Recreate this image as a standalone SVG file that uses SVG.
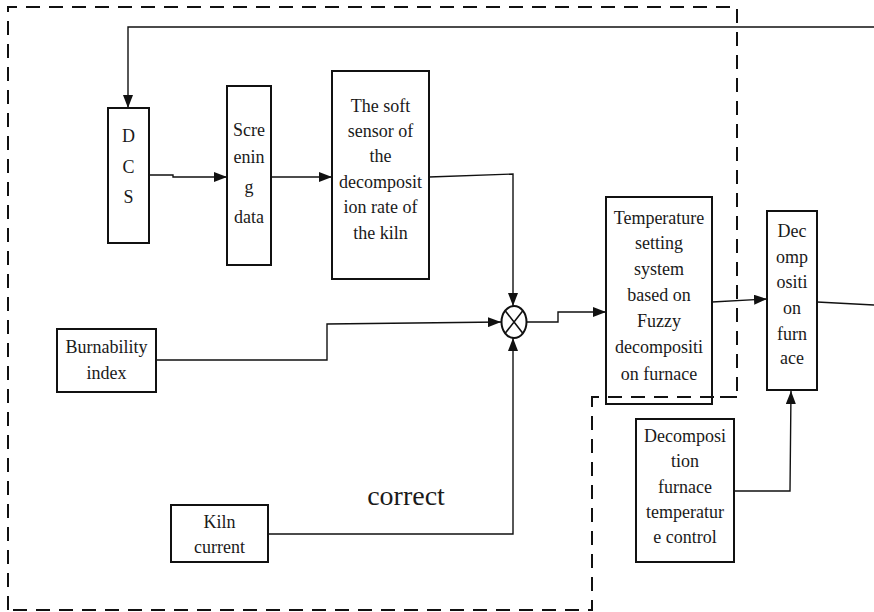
<svg xmlns="http://www.w3.org/2000/svg" width="874" height="612" viewBox="0 0 874 612">
<defs>
<marker id="ah" markerUnits="userSpaceOnUse" markerWidth="14" markerHeight="10" refX="13" refY="5" orient="auto">
<path d="M0,0 L13,5 L0,10 Z" fill="#111"/>
</marker>
<style>
.box{fill:#fff;stroke:#111;stroke-width:2}
.t{font-family:"Liberation Serif","Times New Roman",serif;font-size:18px;fill:#1a1a1a;text-anchor:middle}
.c{fill:none;stroke:#111;stroke-width:1.4}
.dash{fill:none;stroke:#111;stroke-width:2;stroke-dasharray:14 9}
</style>
</defs>
<rect width="874" height="612" fill="#fff"/>

<g id="boundary">
<path class="dash" d="M8,610 L8,7 L737,7 L737,397 L592,397 L592,610 Z"/>
</g>

<g id="connectors">
<path class="c" d="M874,27 L128,27 L128,108" marker-end="url(#ah)"/>
<path class="c" d="M149,175 L173,175 L173,177 L227,177" marker-end="url(#ah)"/>
<path class="c" d="M271,177 L332,177" marker-end="url(#ah)"/>
<path class="c" d="M429,177 L513,174 L513,306" marker-end="url(#ah)"/>
<path class="c" d="M156,360 L327,360 L327,324 L501,322" marker-end="url(#ah)"/>
<path class="c" d="M268,534 L513,534 L513,338" marker-end="url(#ah)"/>
<path class="c" d="M527,322 L558,322 L558,312 L606,312" marker-end="url(#ah)"/>
<path class="c" d="M712,302 L767,299" marker-end="url(#ah)"/>
<path class="c" d="M817,302 L874,305"/>
<path class="c" d="M734,491 L790,491 L791,391" marker-end="url(#ah)"/>
</g>

<g id="dcs">
<rect class="box" x="108" y="108" width="41" height="135"/>
<text class="t" x="128.5" y="142">D</text>
<text class="t" x="128.5" y="173">C</text>
<text class="t" x="128.5" y="203">S</text>
</g>

<g id="screening">
<rect class="box" x="227" y="86" width="44" height="179"/>
<text class="t" x="249" y="136">Scre</text>
<text class="t" x="249" y="163">enin</text>
<text class="t" x="249" y="193">g</text>
<text class="t" x="249" y="223">data</text>
</g>

<g id="softsensor">
<rect class="box" x="332" y="71" width="97" height="208"/>
<text class="t" x="380.5" y="112">The soft</text>
<text class="t" x="380.5" y="137">sensor of</text>
<text class="t" x="380.5" y="162">the</text>
<text class="t" x="380.5" y="188">decomposit</text>
<text class="t" x="380.5" y="213">ion rate of</text>
<text class="t" x="380.5" y="239">the kiln</text>
</g>

<g id="multiplier">
<ellipse cx="514" cy="322" rx="12.5" ry="16" fill="#fff" stroke="#111" stroke-width="2"/>
<path d="M505.2,310.7 L522.8,333.3 M522.8,310.7 L505.2,333.3" stroke="#111" stroke-width="1.6"/>
</g>

<g id="burnability">
<rect class="box" x="57" y="329" width="99" height="63"/>
<text class="t" x="106.5" y="353">Burnability</text>
<text class="t" x="106.5" y="379">index</text>
</g>

<g id="kilncurrent">
<rect class="box" x="171" y="505" width="97" height="57"/>
<text class="t" x="219.5" y="528">Kiln</text>
<text class="t" x="219.5" y="553">current</text>
</g>

<g id="correct-label">
<text x="406" y="505" font-family="Liberation Serif, Times New Roman, serif" font-size="28" fill="#1a1a1a" text-anchor="middle">correct</text>
</g>

<g id="temperature">
<rect class="box" x="606" y="197" width="106" height="207"/>
<text class="t" x="659" y="224">Temperature</text>
<text class="t" x="659" y="249">setting</text>
<text class="t" x="659" y="275">system</text>
<text class="t" x="659" y="301">based on</text>
<text class="t" x="659" y="327">Fuzzy</text>
<text class="t" x="659" y="353">decompositi</text>
<text class="t" x="659" y="380">on furnace</text>
</g>

<g id="furnace">
<rect class="box" x="767" y="211" width="50" height="179"/>
<text class="t" x="792" y="237">Dec</text>
<text class="t" x="792" y="263">omp</text>
<text class="t" x="792" y="288">ositi</text>
<text class="t" x="792" y="314">on</text>
<text class="t" x="792" y="340">furn</text>
<text class="t" x="792" y="364">ace</text>
</g>

<g id="tempcontrol">
<rect class="box" x="636" y="419" width="98" height="143"/>
<text class="t" x="685" y="442">Decomposi</text>
<text class="t" x="685" y="467">tion</text>
<text class="t" x="685" y="493">furnace</text>
<text class="t" x="685" y="518">temperatur</text>
<text class="t" x="685" y="543">e control</text>
</g>

<g id="boundary-overlay">
<path class="dash" d="M737,397 L592,397"/>
</g>
</svg>
